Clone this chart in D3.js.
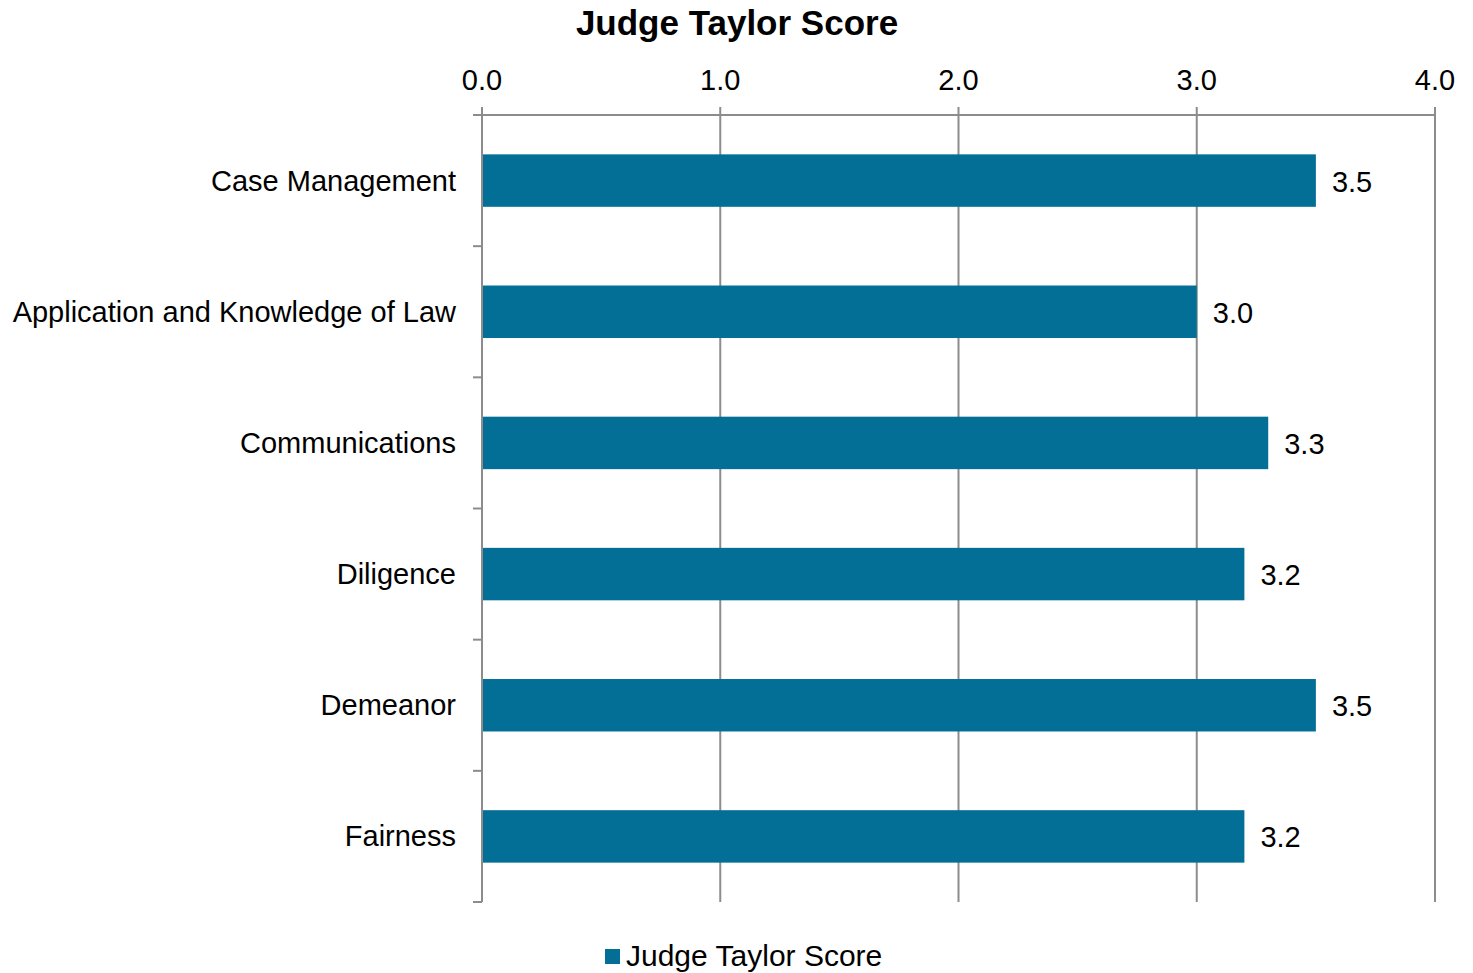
<!DOCTYPE html>
<html><head><meta charset="utf-8">
<script src="https://cdn.jsdelivr.net/npm/d3@7"></script>
<style>body{margin:0;background:#fff;font-family:"Liberation Sans",Arial,sans-serif;}</style>
</head><body>
<svg id="c" width="1473" height="973"></svg>
<script>
const categories = ["Case Management","Application and Knowledge of Law","Communications","Diligence","Demeanor","Fairness"];
const scores = [3.5, 3.0, 3.3, 3.2, 3.5, 3.2];
const tickValues = [0, 1, 2, 3, 4];
const seriesName = "Judge Taylor Score";
const title = "Judge Taylor Score";

(function(){
const svg = d3.select("#c");
const pl = 482, pr = 1435, pt = 115, pb = 902;
const x = d3.scaleLinear().domain([0,4]).range([pl,pr]);
const y = d3.scaleBand().domain(categories).range([pt,pb]).paddingInner(0.6).paddingOuter(0.3);
const yb = d3.scaleBand().domain(categories).range([pt,pb]);
const grey = "#8c8c8c", barColor = "#036f96";

svg.append("g").selectAll("line").data(tickValues).join("line")
  .attr("x1", d=>x(d)).attr("x2", d=>x(d)).attr("y1", pt-8).attr("y2", pb)
  .attr("stroke", grey).attr("stroke-width", 2);
svg.append("line").attr("x1", pl).attr("x2", pr).attr("y1", pt).attr("y2", pt)
  .attr("stroke", grey).attr("stroke-width", 2);
const bounds = categories.map(c=>yb(c)).concat([pb]);
svg.append("g").selectAll("line").data(bounds).join("line")
  .attr("x1", pl-9).attr("x2", pl).attr("y1", d=>d).attr("y2", d=>d)
  .attr("stroke", grey).attr("stroke-width", 2);
svg.append("g").selectAll("text").data(tickValues).join("text")
  .attr("x", d=>x(d)).attr("y", 90).attr("text-anchor","middle")
  .attr("font-size", 29).attr("fill","#000").text(d=>d3.format(".1f")(d));
svg.append("g").selectAll("rect").data(scores).join("rect")
  .attr("x", x(0)+1).attr("y", (d,i)=>y(categories[i]))
  .attr("width", d=>x(d)-x(0)-1).attr("height", y.bandwidth())
  .attr("fill", barColor);
svg.append("g").selectAll("text").data(scores).join("text")
  .attr("x", d=>x(d)+16).attr("y", (d,i)=>yb(categories[i])+yb.bandwidth()/2+11)
  .attr("font-size", 29).attr("fill","#000").text(d=>d3.format(".1f")(d));
svg.append("g").selectAll("text").data(categories).join("text")
  .attr("x", 456).attr("y", d=>yb(d)+yb.bandwidth()/2+10)
  .attr("text-anchor","end").attr("font-size", 29).attr("fill","#000").text(d=>d);
svg.append("text").attr("x", 737).attr("y", 35).attr("text-anchor","middle")
  .attr("font-size", 35).attr("font-weight","bold").text(title);
svg.append("rect").attr("x", 605).attr("y", 949).attr("width", 15).attr("height", 15).attr("fill", barColor);
svg.append("text").attr("x", 626).attr("y", 966).attr("font-size", 30).text(seriesName);
})();
</script>
</body></html>
